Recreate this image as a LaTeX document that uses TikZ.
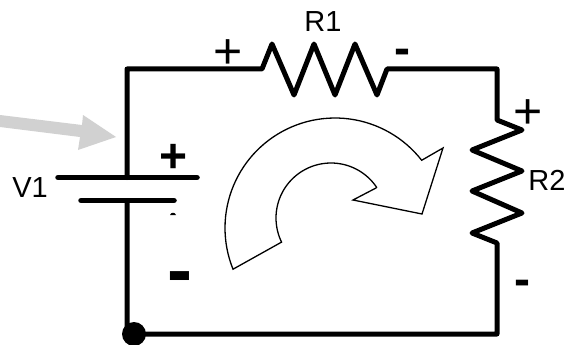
\documentclass[tikz,border=0pt]{standalone}
\usepackage{fontspec}
\setmainfont{Liberation Sans}
\tikzset{
  wire/.style={line width=5pt,line join=round,line cap=round,black},
  plate/.style={line width=5.5pt,line cap=round,black},
  lab/.style={anchor=base,inner sep=0pt,font=\fontsize{29}{29}\selectfont},
  signthin/.style={anchor=base,inner sep=0pt,font=\fontsize{50}{50}\selectfont},
  signbold/.style={anchor=base,inner sep=0pt,font=\fontsize{48}{48}\selectfont\bfseries},
}
\begin{document}
\begin{tikzpicture}[x=1pt,y=-1pt]
\useasboundingbox (0,0) rectangle (570,345);
% junctions
\coordinate (tl) at (127,69);
\coordinate (tr) at (497,69);
\coordinate (br) at (497,334);
\coordinate (vtop) at (127,177.5);
\coordinate (vbot) at (127,200.5);
\coordinate (r1a) at (262,69);
\coordinate (r1b) at (387,69);
\coordinate (r2a) at (497,120);
\coordinate (r2b) at (497,243);
\node[circle,fill=black,inner sep=0pt,minimum size=24pt] (gnd) at (134,334) {};
% wires
\draw[wire] (vtop) -- (tl) -- (r1a) -- (272,44) -- (294,95) -- (314,44) -- (335,95) -- (355,44) -- (377,95) -- (r1b) -- (tr) -- (r2a)
  -- (522,130) -- (472,150) -- (522,171) -- (472,191) -- (522,213) -- (472,233) -- (r2b) -- (br) -- (gnd.center) -- (127,334) -- (vbot);
% battery plates
\coordinate (p1a) at (58,177.5); \coordinate (p1b) at (197,177.5);
\coordinate (p2a) at (81,200.5); \coordinate (p2b) at (174,200.5);
\draw[plate] (p1a) -- (p1b);
\draw[plate] (p2a) -- (p2b);
% gray arrow
\fill[black!18] (0,115) -- (82,125) -- (83,115) -- (116,137) -- (78,150) -- (80,137) -- (0,127) -- cycle;
% curved arrow
\draw[line width=1.3pt,line join=miter,fill=white]
  plot[domain=202:38,samples=60] ({335+110*cos(\x)},{228-110*sin(\x)})
  -- (443,148) -- (422,214) -- (353,200) -- (376,188)
  -- plot[domain=34:206,samples=60] ({331+55*cos(\x)},{218-55*sin(\x)})
  -- cycle;
% labels
\node[lab] (v1) at (30,197) {V1};
\node[lab] (r1) at (323,32) {R1};
\node[lab] (r2) at (547,190) {R2};
\node[signthin] (r1p) at (228,68) {+};
\node[signthin] (r2p) at (528,128) {+};
\node[signbold] (vp) at (174,172) {+};
\node[signbold] (r1m) at (402,64) {-};
\node[signbold] (r2m) at (522,295) {-};
\node[anchor=base,inner sep=0pt,font=\fontsize{75}{75}\selectfont\bfseries] (vm) at (180,295) {-};
\fill (170,215) .. controls (171,212) and (175,212) .. (176,215) -- cycle;
\end{tikzpicture}
\end{document}
